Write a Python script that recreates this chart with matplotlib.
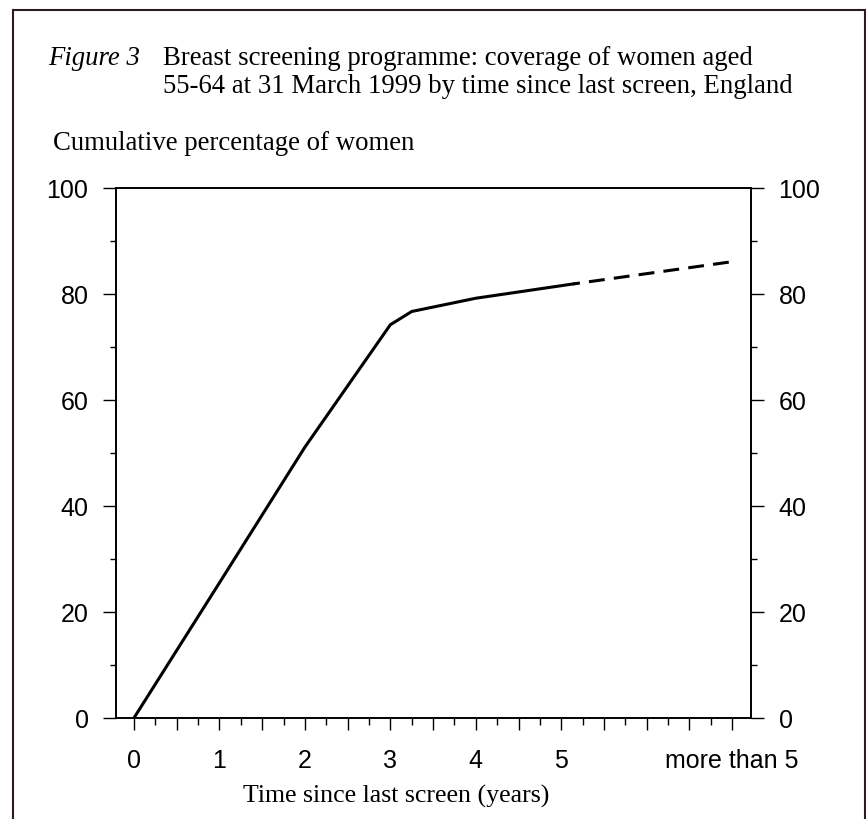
import matplotlib
matplotlib.use("Agg")
import matplotlib.pyplot as plt
from matplotlib.lines import Line2D
from matplotlib.transforms import blended_transform_factory
import numpy as np

# Data
years_solid = [0, 1, 2, 3, 3.25, 4, 5.14]
pct_solid = [0, 25.5, 51.1, 74.2, 76.7, 79.2, 81.9]
years_dashed = [5.14, 7]
pct_dashed = [81.9, 86.1]
xtick_pos = [0, 1, 2, 3, 4, 5, 7]
xtick_labels = ["0", "1", "2", "3", "4", "5", "more than 5"]
ytick_vals = [0, 20, 40, 60, 80, 100]

W, H = 866, 819
fig = plt.figure(figsize=(W / 100, H / 100), dpi=100)

def fx(px):
    return px / W

def fy(py):
    return 1 - py / H

ax = fig.add_axes([fx(116), fy(718), fx(751) - fx(116), fy(188) - fy(718)])
ax.plot(years_solid, pct_solid, color="black", lw=2.2, solid_joinstyle="miter")
ax.plot(years_dashed, pct_dashed, color="black", lw=2.2,
        linestyle=(3.0, (5.2, 3.0)), dash_capstyle="butt")
ax.set_xlim(-0.21, 7.22)
ax.set_ylim(0, 100)

sans = "Liberation Sans"
serif = "Liberation Serif"

ax.set_xticks(xtick_pos)
ax.set_xticklabels(xtick_labels, fontfamily=sans, fontsize=18)
ax.set_xticks(np.arange(0, 7.01, 0.5), minor=True)
ax.set_yticks(ytick_vals)
ax.set_yticks(np.arange(10, 100, 20), minor=True)

ax.tick_params(axis="x", which="major", direction="out", length=8.6, width=1.0, pad=14, colors="black")
ax.tick_params(axis="x", which="minor", direction="out", length=8.6, width=1.0)
ax.tick_params(axis="y", which="major", direction="out", length=9.3, width=1.0, pad=10.5,
               left=True, right=True, labelleft=True, labelright=True)
ax.tick_params(axis="y", which="minor", direction="out", length=4.5, width=1.0, left=True, right=True)
for lbl in ax.get_yticklabels():
    lbl.set_fontfamily(sans)
    lbl.set_fontsize(18)

# short ticks at the quarter years
quarter = list(np.arange(0.25, 7.0, 0.5))
trans = blended_transform_factory(ax.transData, ax.transAxes)
ax.plot(quarter, [0] * len(quarter), transform=trans, linestyle="none",
        marker=3, markersize=5, markeredgewidth=1.0, color="black", clip_on=False)

for s in ax.spines.values():
    s.set_linewidth(1.4)
    s.set_color("black")

# Titles
fig.text(fx(48), fy(65), "Figure 3", fontfamily=serif, style="italic", fontsize=19.3, va="baseline")
fig.text(fx(163), fy(65), "Breast screening programme: coverage of women aged",
         fontfamily=serif, fontsize=19.3, va="baseline")
fig.text(fx(163), fy(93), "55-64 at 31 March 1999 by time since last screen, England",
         fontfamily=serif, fontsize=19.3, va="baseline")
fig.text(fx(53), fy(150), "Cumulative percentage of women",
         fontfamily=serif, fontsize=19.3, va="baseline")
fig.text(fx(396.5), fy(803), "Time since last screen (years)",
         fontfamily=serif, fontsize=18.6, va="baseline", ha="center")

# Outer border (open at the bottom)
border_color = "#2e1c1c"
fig.add_artist(Line2D([fx(13), fx(13)], [0, fy(10)], color=border_color, lw=1.5))
fig.add_artist(Line2D([fx(13), fx(865)], [fy(10), fy(10)], color=border_color, lw=1.5))
fig.add_artist(Line2D([fx(865), fx(865)], [0, fy(10)], color=border_color, lw=1.5))

fig.savefig("out.png", dpi=100, facecolor="white")
